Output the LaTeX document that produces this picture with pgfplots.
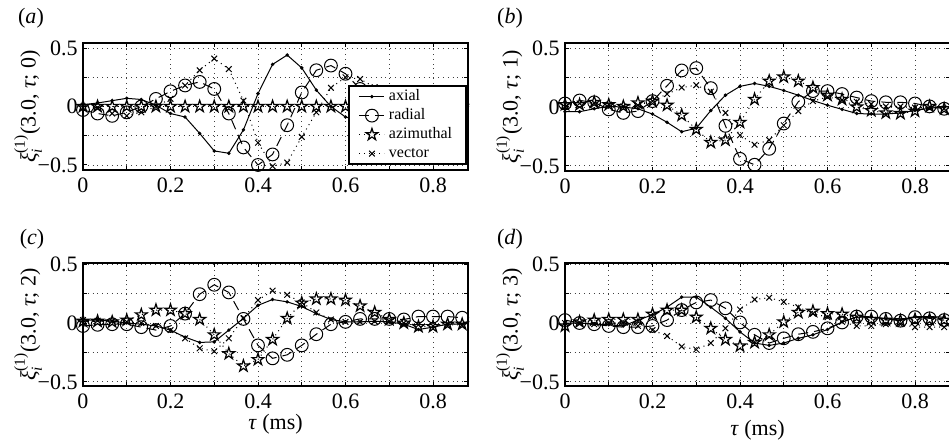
\documentclass[border=0pt]{standalone}
\usepackage{fontspec}
\setmainfont{Liberation Serif}
\usepackage{amsmath}
\usepackage{pgfplots}
\usepackage{pgfplotstable}
\pgfplotsset{compat=1.18}

\pgfdeclareplotmark{pentagram}{%
  \pgfpathmoveto{\pgfpointpolar{90}{\pgfplotmarksize}}%
  \pgfpathlineto{\pgfpointpolar{126}{0.382\pgfplotmarksize}}%
  \pgfpathlineto{\pgfpointpolar{162}{\pgfplotmarksize}}%
  \pgfpathlineto{\pgfpointpolar{198}{0.382\pgfplotmarksize}}%
  \pgfpathlineto{\pgfpointpolar{234}{\pgfplotmarksize}}%
  \pgfpathlineto{\pgfpointpolar{270}{0.382\pgfplotmarksize}}%
  \pgfpathlineto{\pgfpointpolar{306}{\pgfplotmarksize}}%
  \pgfpathlineto{\pgfpointpolar{342}{0.382\pgfplotmarksize}}%
  \pgfpathlineto{\pgfpointpolar{18}{\pgfplotmarksize}}%
  \pgfpathlineto{\pgfpointpolar{54}{0.382\pgfplotmarksize}}%
  \pgfpathclose\pgfusepathqstroke}

\pgfplotstableread{
x      ax     ra     az    ve
0      0.015 -0.03   0    -0.01
0.0333 0.03  -0.06   0    -0.01
0.0667 0.05  -0.08   0    -0.06
0.1    0.07  -0.05   0    -0.08
0.1333 0.06   0      0    -0.05
0.1667 0.01   0.065  0     0
0.2   -0.06   0.13   0     0.065
0.2333 -0.09  0.18   0     0.18
0.2667 -0.23  0.21   0     0.31
0.3   -0.38   0.15   0     0.41
0.3333 -0.40 -0.06   0     0.32
0.3667 -0.20 -0.35   0     0.05
0.4    0.11  -0.50   0    -0.31
0.4333 0.36  -0.41   0    -0.51
0.4667 0.44  -0.16   0    -0.48
0.5    0.33   0.12   0    -0.26
0.5333 0.14   0.31   0    -0.05
0.5667 0      0.35   0     0.16
0.6   -0.09   0.28   0     0.25
0.6333 -0.12  0.15   0     0.235
0.6667 -0.10  0.04   0     0.165
0.7   -0.06  -0.02   0     0.08
0.7333 -0.03 -0.03   0     0.02
0.7667 -0.01 -0.02   0    -0.01
0.8    0      0      0    -0.02
0.8333 0      0      0     0
0.8667 0      0      0     0
}\tabA

\pgfplotstableread{
x      ax     ra     az     ve
0     -0.04   0.03   0.02   0
0.0333 -0.04  0.055  0.02   0.03
0.0667 -0.015 0.04   0.04   0.035
0.1    0.005 -0.02   0.02   0.02
0.1333 0     -0.05   0.005  0.005
0.1667 -0.015 -0.035 0.035  0.015
0.2   -0.06   0.05   0.05   0.05
0.2333 -0.13  0.18   0.015  0.11
0.2667 -0.21  0.31  -0.07   0.165
0.3   -0.18   0.33  -0.19   0.185
0.3333 -0.03  0.16  -0.30   0.13
0.3667 0.10  -0.16  -0.28  -0.05
0.4    0.175 -0.44  -0.13  -0.24
0.4333 0.20  -0.49   0.065 -0.32
0.4667 0.175 -0.355  0.22  -0.28
0.5    0.14  -0.14   0.255 -0.155
0.5333 0.10   0.045  0.22  -0.035
0.5667 0.055  0.135  0.165  0.05
0.6    0.015  0.135  0.10   0.085
0.6333 -0.02  0.11   0.065  0.06
0.6667 -0.055 0.08   0      0.045
0.7   -0.06   0.05  -0.03   0.025
0.7333 -0.06  0.04  -0.05   0.005
0.7667 -0.05  0.04  -0.055  0.005
0.8   -0.03   0.03  -0.035 -0.005
0.8333 -0.01  0.005  0.005  0
0.8667 0     -0.015 -0.015 -0.015
}\tabB

\pgfplotstableread{
x      ax     ra     az     ve
0      0.025 -0.025  0.015  0.025
0.0333 0.025 -0.015  0.015  0.02
0.0667 0.015 -0.01   0.01   0.015
0.1    0     -0.01   0.025  0.01
0.1333 -0.01 -0.035  0.07   0
0.1667 -0.025 -0.06  0.11  -0.025
0.2   -0.06  -0.025  0.11  -0.06
0.2333 -0.12  0.08   0.08  -0.13
0.2667 -0.165 0.245  0.03  -0.215
0.3   -0.16   0.325 -0.10  -0.24
0.3333 -0.06  0.26  -0.26  -0.13
0.3667 0.04   0.035 -0.365  0.04
0.4    0.15  -0.19  -0.31   0.195
0.4333 0.20  -0.30  -0.14   0.275
0.4667 0.18  -0.27   0.04   0.24
0.5    0.14  -0.19   0.17   0.175
0.5333 0.08  -0.095  0.205  0.09
0.5667 0.03  -0.01   0.205  0.03
0.6    0.01   0.01   0.195  0.01
0.6333 0.01   0.035  0.145  0.01
0.6667 0.015  0.035  0.09   0.015
0.7    0.01   0.035  0.03   0.015
0.7333 -0.01  0.03   0     0
0.7667 -0.055 0.055 -0.03  -0.015
0.8   -0.035  0.055 -0.03  -0.025
0.8333 -0.01  0.055 -0.01  -0.015
0.8667 -0.01  0.045 -0.01  -0.015
}\tabC

\pgfplotstableread{
x      ax     ra     az     ve
0      0      0.025 -0.025  0
0.0333 0      0      0.01   0
0.0667 -0.01 -0.01   0.025 -0.01
0.1   -0.015 -0.025  0.03   0
0.1333 -0.025 -0.035 0.03   0
0.1667 0.025 -0.035  0.03  -0.025
0.2    0.07  -0.025  0.075 -0.06
0.2333 0.135  0.025  0.11  -0.11
0.2667 0.22   0.11   0.11  -0.20
0.3    0.22   0.175  0.05  -0.225
0.3333 0.135  0.195 -0.045 -0.17
0.3667 0.04   0.125 -0.14  -0.045
0.4   -0.075  0.005 -0.195  0.115
0.4333 -0.17 -0.10  -0.165  0.20
0.4667 -0.19 -0.17  -0.10   0.215
0.5   -0.17  -0.13   0.01   0.18
0.5333 -0.13 -0.095  0.09   0.135
0.5667 -0.10 -0.075  0.10   0.08
0.6   -0.055 -0.045  0.08   0.05
0.6333 0.01   0.005  0.075  0.01
0.6667 0.05   0.055  0.05  -0.025
0.7    0.05   0.055  0.03  -0.025
0.7333 0.035  0.035  0.025 -0.01
0.7667 0.025  0.02   0.02  -0.01
0.8    0.055  0.05   0.03  -0.035
0.8333 0.055  0.04   0.03  -0.035
0.8667 0.05   0.025  0.025 -0.035
}\tabD

\newcommand{\fs}{\fontsize{11}{13}\selectfont}
\pgfplotsset{
  panel/.style={
    scale only axis, width=192.5pt,
    xmin=0, xmax=0.88,
    xtick={0,0.1,0.2,0.3,0.4,0.5,0.6,0.7,0.8},
    xticklabels={0,,0.2,,0.4,,0.6,,0.8},
    ytick={-0.5,-0.25,0,0.25,0.5},
    yticklabels={−0.5,,0,,0.5},
    grid=major,
    major grid style={dotted, line width=0.45pt, black!75},
    axis line style={line width=0.9pt},
    tick align=inside, major tick length=2pt,
    tick style={black, line width=0.5pt},
    ticklabel style={font=\fs, inner sep=0pt},
    xticklabel style={yshift=-3.5pt},
    yticklabel style={xshift=-2.5pt},
    label style={font=\fs},
    ylabel style={at={(axis description cs:-0.143,0.5)}, anchor=center},
    xlabel style={at={(axis description cs:0.5,0)}, anchor=north, inner sep=0pt},
  },
  axial/.style={black, solid, line width=0.5pt, mark=*, mark size=0.6pt},
  radial/.style={black, dash pattern=on 5pt off 3pt, line width=0.5pt, mark=o, mark size=3.2pt, mark options={solid}},
  azim/.style={black, dotted, line width=0.5pt, mark=pentagram, mark size=3.1pt, mark options={solid, line width=0.6pt}},
  vect/.style={black, dotted, line width=0.5pt, mark=x, mark size=2pt, mark options={solid}},
}

\begin{document}
\begin{tikzpicture}
\useasboundingbox (0,0) rectangle (474.5pt,-221.5pt);

% (a)
\begin{axis}[panel, height=63.5pt, ymin=-0.543, ymax=0.543,
  at={(41.5pt,-85pt)}, anchor=south west,
  ylabel={\textit{ξ}$^{\text{(1)}}_{\textit{i}}$(3.0, \textit{τ}; 0)},
  legend style={at={(rel axis cs:0.997,0.04)}, anchor=south east,
    font=\fontsize{8}{9.5}\selectfont, draw=black, line width=0.8pt,
    fill=white, inner xsep=5pt, inner ysep=0.5pt, row sep=0pt,
    nodes={inner xsep=2pt, inner ysep=1pt, text height=5.8pt, text depth=1.7pt},
    /tikz/every even column/.append style={column sep=3pt}},
  legend cell align=left,
  legend image code/.code={\draw[mark repeat=2, mark phase=2] plot coordinates {(0pt,0pt) (6.25pt,0pt) (12.5pt,0pt)};},
]
\addplot[axial] table[x=x,y=ax] {\tabA};
\addplot[radial] table[x=x,y=ra] {\tabA};
\addplot[azim] table[x=x,y=az] {\tabA};
\addplot[vect] table[x=x,y=ve] {\tabA};
\legend{axial, radial, azimuthal, vector}
\end{axis}

% (b)
\begin{axis}[panel, height=64pt, ymin=-0.543, ymax=0.543,
  at={(282.5pt,-85.5pt)}, anchor=south west,
  ylabel={\textit{ξ}$^{\text{(1)}}_{\textit{i}}$(3.0, \textit{τ}; 1)},
]
\addplot[axial] table[x=x,y=ax] {\tabB};
\addplot[radial] table[x=x,y=ra] {\tabB};
\addplot[azim] table[x=x,y=az] {\tabB};
\addplot[vect] table[x=x,y=ve] {\tabB};
\end{axis}

% (c)
\begin{axis}[panel, height=61.5pt, ymin=-0.535, ymax=0.51,
  at={(41.5pt,-193pt)}, anchor=south west,
  ylabel={\textit{ξ}$^{\text{(1)}}_{\textit{i}}$(3.0, \textit{τ}; 2)},
  xlabel={\textit{τ} (ms)}, xlabel style={yshift=-14pt},
]
\addplot[axial] table[x=x,y=ax] {\tabC};
\addplot[radial] table[x=x,y=ra] {\tabC};
\addplot[azim] table[x=x,y=az] {\tabC};
\addplot[vect] table[x=x,y=ve] {\tabC};
\end{axis}

% (d)
\begin{axis}[panel, height=61.5pt, ymin=-0.535, ymax=0.51,
  at={(282.5pt,-193pt)}, anchor=south west,
  ylabel={\textit{ξ}$^{\text{(1)}}_{\textit{i}}$(3.0, \textit{τ}; 3)},
  xlabel={\textit{τ} (ms)}, xlabel style={yshift=-17pt},
]
\addplot[axial] table[x=x,y=ax] {\tabD};
\addplot[radial] table[x=x,y=ra] {\tabD};
\addplot[azim] table[x=x,y=az] {\tabD};
\addplot[vect] table[x=x,y=ve] {\tabD};
\end{axis}

\node[font=\fs] at (15.5pt,-9pt) {(\textit{a})};
\node[font=\fs] at (255pt,-9pt) {(\textit{b})};
\node[font=\fs] at (16pt,-119.5pt) {(\textit{c})};
\node[font=\fs] at (255pt,-119.5pt) {(\textit{d})};
\end{tikzpicture}
\end{document}
